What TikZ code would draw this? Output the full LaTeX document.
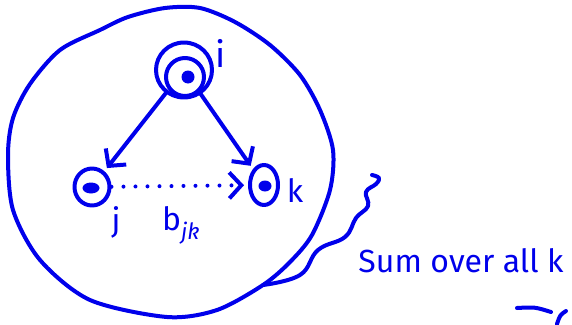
\documentclass[tikz,border=0pt]{standalone}
\usepackage{fontspec}
\setmainfont{Fira Sans}
\usetikzlibrary{arrows.meta, shapes.geometric, positioning}
\definecolor{ink}{RGB}{0,0,235}
\begin{document}
\begin{tikzpicture}[
	x=1pt, y=-1pt,
	line width=4pt, line cap=round, line join=round,
	ring/.style={ellipse, draw=ink, inner sep=0pt},
	kernel/.style={ellipse, fill=ink, inner sep=0pt, minimum width=17pt, minimum height=11pt},
	lbl/.style={text=ink, inner sep=0pt, font=\fontsize{32}{32}\selectfont},
	edge/.style={draw=ink, shorten >=4pt, -{Straight Barb[length=12pt, width=26pt]}}
	]
	\useasboundingbox (0,0) rectangle (572,324);
	% boundary of the group
	\draw[ink] plot[smooth cycle, tension=0.5] coordinates {(8,155) (13,118) (30,84) (60,50) (100,30) (128,17) (165,8) (200,8) (235,22) (270,45) (300,75) (320,110) (333,150) (330,190) (312,235) (290,262) (263,285) (217,310) (167,317) (90,300) (40,260) (13,210)};
	% nodes
	\node[ring, minimum width=56pt, minimum height=55pt] (i) at (184,70) {};
	\node[ring, minimum width=38pt, minimum height=38pt] (iin) at (185,77) {};
	\node[kernel, minimum width=13pt, minimum height=13pt] (ic) at (188,77) {};
	\node[ring, minimum width=35pt, minimum height=37pt] (j) at (92,187) {};
	\node[kernel] (jc) at (91,188) {};
	\node[ring, minimum width=28pt, minimum height=40pt] (k) at (264,185) {};
	\node[kernel, minimum width=13pt] (kc) at (265,186) {};
	% labels
	\node[lbl, font=\fontsize{36}{36}\selectfont] (ilbl) at (221,53) {i};
	\node[lbl] (jlbl) at (116,222) {j};
	\node[lbl] (klbl) at (295,190) {k};
	\node[lbl] (blbl) at (181,225) {b$_{\mathit{jk}}$};
	% connectors
	\draw[edge] (i) -- (j);
	\draw[edge] (i) -- (k);
	\draw[edge, dash pattern=on 0pt off 12pt] (j) -- (k);
	% brace to the note
	\coordinate (join) at (263,285);
	\draw[ink] plot[smooth, tension=0.7] coordinates {(join) (300,275) (318,250) (345,237) (356,218) (368,206) (366,192) (376,184) (379,178) (372,175)};
	\node[lbl, anchor=base] (note) at (461,272) {Sum over all k};
	% stray strokes
	\draw[ink] (517,308) .. controls (535,307) .. (551,312);
	\draw[ink] (557,324) .. controls (560,315) .. (566,311);
\end{tikzpicture}
\end{document}
